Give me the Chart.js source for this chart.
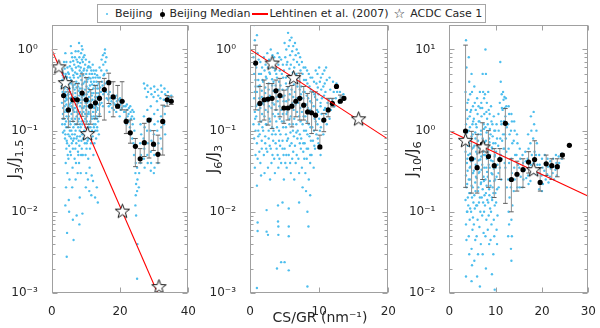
<!DOCTYPE html>
<html>
<head>
<meta charset="utf-8">
<script src="https://cdn.jsdelivr.net/npm/chart.js@4.4.1/dist/chart.umd.min.js"></script>
<style>
  body { margin: 0; background: #fff; font-family: "DejaVu Sans", sans-serif; color: #262626; }
  #fig { position: relative; width: 600px; height: 328px; overflow: hidden; }
  #fig canvas { position: absolute; top: 0; }
  .ytitle { position: absolute; font-size: 15px; white-space: nowrap; transform: translate(-50%, -50%) rotate(-90deg); }
  .ytitle sub { font-size: 75%; }
  #xtitle { position: absolute; left: 320px; top: 317px; transform: translate(-50%, -50%); font-size: 14px; white-space: nowrap; }
  #legend { position: absolute; left: 97px; top: 4px; height: 17px; border: 1px solid #a6a6a6; background: #fff;
            display: flex; align-items: center; font-size: 11px; padding: 0 3px 0 1px; white-space: nowrap; }
  #legend .sw { display: inline-block; position: relative; }
  .dot { width: 2px; height: 2px; border-radius: 1px; background: rgb(77,190,238); margin: 0 7px 0 7px; }
  .med { width: 7px; height: 12px; margin: 0 3px 0 7px; }
  .med i { position: absolute; left: 3px; top: 1px; width: 1px; height: 10px; background: #8c8c8c; }
  .med b { position: absolute; left: 1px; top: 4px; width: 5px; height: 5px; border-radius: 3px; background: #000; }
  .rl { width: 16px; height: 2px; background: #ff0000; margin: 0 1px 0 2px; }
  .st { font-size: 13px; margin: 0 5px 0 5px; line-height: 1; }
</style>
</head>
<body>
<div id="fig">
  <canvas id="c1" width="200" height="328" style="left:0px"></canvas>
  <canvas id="c2" width="200" height="328" style="left:200px"></canvas>
  <canvas id="c3" width="200" height="328" style="left:400px"></canvas>
  <div class="ytitle" style="left:15px; top:159px">J<sub>3</sub>/J<sub>1.5</sub></div>
  <div class="ytitle" style="left:214px; top:159px">J<sub>6</sub>/J<sub>3</sub></div>
  <div class="ytitle" style="left:413px; top:159px">J<sub>10</sub>/J<sub>6</sub></div>
  <div id="xtitle">CS/GR (nm⁻¹)</div>
  <div id="legend">
    <span class="sw dot"></span><span>Beijing</span>
    <span class="sw med"><i></i><b></b></span><span>Beijing Median</span>
    <span class="sw rl"></span><span>Lehtinen et al. (2007)</span>
    <span class="sw st">☆</span><span>ACDC Case 1</span>
  </div>
</div>
<script>
// ---- panel 1 : J3/J1.5 ----
var beijing1 = [
  [3.0,0.55],[3.1,0.42],[2.9,0.35],[3.2,0.30],[3.0,0.22],[3.3,0.16],[3.1,0.12],[2.8,0.62],[3.4,0.50],
  [3.6,0.70],[3.5,0.45],[3.7,0.33],[3.5,0.26],[3.8,0.20],[3.6,0.14],[3.7,0.10],[3.9,0.08],
  [4.0,0.90],[4.1,0.50],[4.2,0.40],[4.0,0.30],[4.3,0.25],[4.1,0.18],[4.2,0.13],[4.0,0.09],[4.3,0.06],[4.1,0.04],[4.2,0.02],[4.0,0.012],
  [4.6,0.60],[4.5,0.45],[4.7,0.32],[4.4,0.24],[4.6,0.17],[4.8,0.11],[4.5,0.07],[4.7,0.05],[4.6,0.03],[4.5,0.0055],[4.4,0.0028],
  [5.0,0.50],[5.1,0.38],[4.9,0.28],[5.2,0.21],[5.0,0.15],[5.3,0.10],[5.1,0.065],[4.9,0.045],[5.2,0.025],[5.0,0.014],[5.1,0.010],
  [5.6,1.10],[5.5,0.70],[5.7,0.42],[5.4,0.30],[5.6,0.22],[5.8,0.16],[5.5,0.12],[5.7,0.08],[5.6,0.05],
  [6.0,0.80],[6.1,0.55],[6.2,0.36],[5.9,0.26],[6.1,0.19],[6.3,0.13],[6.0,0.09],[6.2,0.06],[6.1,0.035],[6.0,0.02],[6.2,0.008],
  [6.6,0.65],[6.5,0.45],[6.7,0.32],[6.4,0.23],[6.6,0.17],[6.8,0.12],[6.5,0.08],[6.7,0.045],[6.4,0.0045],
  [7.0,0.95],[7.1,0.60],[7.2,0.40],[6.9,0.29],[7.1,0.21],[7.3,0.15],[7.0,0.10],[7.2,0.07],[7.1,0.04],[7.0,0.025],[7.3,0.009],
  [7.6,0.70],[7.5,0.50],[7.7,0.35],[7.4,0.25],[7.6,0.18],[7.8,0.13],[7.5,0.085],[7.7,0.055],[7.6,0.03],
  [8.0,1.20],[8.1,0.80],[8.2,0.55],[7.9,0.38],[8.1,0.27],[8.3,0.20],[8.0,0.14],[8.2,0.10],[8.1,0.065],[8.0,0.04],[8.2,0.015],[8.1,0.007],
  [8.6,0.90],[8.5,0.60],[8.7,0.42],[8.4,0.30],[8.6,0.22],[8.8,0.16],[8.5,0.11],[8.7,0.075],[8.6,0.05],[8.5,0.03],
  [9.0,1.00],[9.1,0.70],[9.2,0.48],[8.9,0.33],[9.1,0.24],[9.3,0.17],[9.0,0.12],[9.2,0.08],[9.1,0.05],[9.0,0.0095],
  [9.6,0.85],[9.5,0.58],[9.7,0.40],[9.4,0.28],[9.6,0.20],[9.8,0.14],[9.5,0.10],[9.7,0.07],
  [10.0,0.75],[10.1,0.50],[10.2,0.35],[9.9,0.25],[10.1,0.18],[10.3,0.13],[10.0,0.09],[10.2,0.06],[10.1,0.03],[10.0,0.02],
  [10.6,0.60],[10.5,0.43],[10.7,0.30],[10.4,0.22],[10.6,0.16],[10.8,0.11],[10.5,0.075],[10.7,0.045],[10.6,0.025],
  [11.0,0.70],[11.1,0.50],[11.2,0.36],[10.9,0.26],[11.1,0.19],[11.3,0.13],[11.0,0.09],[11.2,0.06],[11.1,0.035],[11.0,0.018],
  [11.6,0.55],[11.5,0.40],[11.7,0.29],[11.4,0.21],[11.6,0.15],[11.8,0.10],[11.5,0.07],[11.7,0.028],[11.6,0.016],
  [12.0,0.65],[12.1,0.45],[12.2,0.33],[11.9,0.24],[12.1,0.17],[12.3,0.12],[12.0,0.085],[12.2,0.05],[12.1,0.024],
  [12.6,0.50],[12.5,0.36],[12.7,0.26],[12.4,0.19],[12.6,0.14],[12.8,0.10],[12.5,0.07],[12.7,0.015],
  [13.0,0.55],[13.1,0.40],[13.2,0.29],[12.9,0.20],[13.1,0.15],[13.3,0.11],[13.0,0.08],[13.2,0.02],
  [13.6,0.45],[13.5,0.33],[13.7,0.24],[13.4,0.18],[13.6,0.13],[13.8,0.09],[13.5,0.013],
  [14.0,0.60],[14.1,0.45],[14.2,0.34],[13.9,0.27],[14.1,0.21],[14.0,0.16],
  [14.6,0.75],[14.5,0.55],[14.7,0.40],[14.4,0.30],[14.6,0.22],
  [15.0,0.85],[15.1,0.65],[15.2,0.48],[14.9,0.36],[15.1,0.28],[15.0,0.20],
  [15.6,1.00],[15.5,0.90],[15.7,0.70],[15.4,0.50],[15.6,0.38],[15.5,0.30],
  [16.0,0.80],[16.1,0.55],[16.2,0.40],[15.9,0.30],[16.1,0.25],
  [16.6,0.28],[16.5,0.24],[16.7,0.20],[17.0,0.30],[17.1,0.25],[17.2,0.21],[16.9,0.17],[17.6,0.27],[17.5,0.23],[17.7,0.19],
  [18.0,0.26],[18.1,0.22],[18.2,0.18],[18.6,0.25],[18.5,0.21],[19.0,0.27],[19.1,0.23],[19.2,0.20],[18.9,0.17],[19.6,0.24],[19.5,0.20],
  [20.0,0.25],[20.1,0.21],[20.2,0.18],[19.9,0.15],[20.6,0.22],[20.5,0.19],[21.0,0.23],[21.1,0.20],[21.2,0.17],[21.6,0.20],[21.5,0.17],[21.7,0.14],
  [22.0,0.21],[22.1,0.18],[22.2,0.15],[21.9,0.12],[22.6,0.19],[22.5,0.16],[22.7,0.13],[23.0,0.20],[23.1,0.17],[23.2,0.14],[22.9,0.11],[23.1,0.09],
  [23.6,0.18],[23.5,0.15],[23.7,0.12],[23.6,0.08],[24.0,0.17],[24.1,0.14],[24.2,0.10],[23.9,0.07],[24.1,0.05],
  [24.6,0.04],[24.5,0.03],[24.7,0.022],[24.6,0.016],[24.5,0.012],[24.7,0.009],[25.0,0.035],[25.1,0.025],[25.0,0.018],[25.1,0.004],[25.0,0.0015],[25.6,0.03],[25.5,0.02],
  [27.0,0.38],[27.3,0.33],[28.0,0.36],[28.2,0.30],[27.8,0.26],[29.0,0.33],[29.2,0.28],[30.0,0.35],[30.2,0.30],[29.8,0.26],[31.0,0.32],[31.2,0.27],[30.8,0.23],
  [32.0,0.36],[32.2,0.30],[31.8,0.25],[33.0,0.33],[33.2,0.28],[32.8,0.24],[34.0,0.30],[34.2,0.26],[33.8,0.22],[35.0,0.27],[35.2,0.24],
  [26.0,0.12],[26.2,0.09],[25.9,0.07],[26.1,0.05],[26.0,0.04],[27.0,0.15],[27.2,0.11],[26.9,0.08],[27.1,0.06],[27.0,0.045],[27.2,0.035],
  [28.0,0.18],[28.1,0.13],[27.9,0.10],[28.2,0.07],[28.0,0.05],[28.1,0.04],[29.0,0.20],[29.1,0.14],[28.9,0.10],[29.2,0.075],[29.0,0.055],[29.1,0.04],[29.0,0.032],
  [30.0,0.16],[30.1,0.12],[29.9,0.09],[30.2,0.065],[30.0,0.05],[30.1,0.035],[29.9,0.03],[31.0,0.18],[31.1,0.13],[30.9,0.10],[31.2,0.07],[31.0,0.05],[31.1,0.04],
  [32.0,0.15],[32.1,0.11],[31.9,0.08],[32.2,0.06],[33.0,0.20],[33.1,0.16],[32.9,0.12],[33.2,0.09],
  [3.25,0.48],[3.3,0.38],[3.2,0.27],[3.35,0.19],[3.25,0.14],[3.3,0.095],
  [3.8,0.58],[3.85,0.40],[3.75,0.29],[3.9,0.23],[3.8,0.17],[3.85,0.12],
  [4.3,0.70],[4.35,0.46],[4.25,0.35],[4.4,0.27],[4.3,0.21],[4.35,0.15],[4.25,0.11],[4.4,0.075],
  [4.8,0.52],[4.85,0.40],[4.75,0.28],[4.9,0.20],[4.8,0.14],[4.85,0.09],
  [5.3,0.62],[5.35,0.45],[5.25,0.33],[5.4,0.25],[5.3,0.18],[5.35,0.13],[5.25,0.085],[5.4,0.055],
  [5.8,0.90],[5.85,0.58],[5.75,0.38],[5.9,0.28],[5.8,0.20],[5.85,0.14],[5.75,0.10],[5.9,0.07],
  [6.3,0.72],[6.35,0.48],[6.25,0.34],[6.4,0.25],[6.3,0.18],[6.35,0.11],[6.25,0.075],
  [6.8,0.80],[6.85,0.52],[6.75,0.37],[6.9,0.26],[6.8,0.19],[6.85,0.14],[6.75,0.09],[6.9,0.06],
  [7.3,0.75],[7.35,0.50],[7.25,0.34],[7.4,0.24],[7.3,0.17],[7.35,0.12],[7.25,0.08],
  [7.8,0.95],[7.85,0.62],[7.75,0.45],[7.9,0.31],[7.8,0.22],[7.85,0.16],[7.75,0.11],[7.9,0.075],[7.8,0.05],
  [8.3,0.68],[8.35,0.47],[8.25,0.33],[8.4,0.24],[8.3,0.17],[8.35,0.12],[8.25,0.085],
  [8.8,1.10],[8.85,0.75],[8.75,0.52],[8.9,0.37],[8.8,0.26],[8.85,0.19],[8.75,0.13],[8.9,0.09],[8.8,0.06],
  [9.3,0.80],[9.35,0.55],[9.25,0.38],[9.4,0.27],[9.3,0.19],[9.35,0.13],[9.25,0.09],
  [9.8,0.65],[9.85,0.45],[9.75,0.32],[9.9,0.22],[9.8,0.16],[9.85,0.11],[9.75,0.08],[9.9,0.05],
  [10.3,0.55],[10.35,0.40],[10.25,0.28],[10.4,0.20],[10.3,0.15],[10.35,0.10],[10.25,0.07],
  [10.8,0.62],[10.85,0.45],[10.75,0.33],[10.9,0.23],[10.8,0.17],[10.85,0.12],[10.75,0.08],
  [11.3,0.60],[11.35,0.44],[11.25,0.31],[11.4,0.23],[11.3,0.16],[11.35,0.11],[11.25,0.08],
  [11.8,0.50],[11.85,0.37],[11.75,0.27],[11.9,0.20],[11.8,0.14],[11.85,0.095],
  [12.3,0.55],[12.35,0.40],[12.25,0.29],[12.4,0.21],[12.3,0.15],[12.35,0.11],
  [12.8,0.45],[12.85,0.33],[12.75,0.24],[12.9,0.17],[12.8,0.12],
  [13.3,0.48],[13.35,0.36],[13.25,0.26],[13.4,0.19],[13.3,0.14],[13.35,0.10],
  [13.8,0.38],[13.85,0.29],[13.75,0.21],[13.9,0.15]
];
var medX1  = [3.5,4.9,6.2,7.5,8.9,10.1,11.4,12.8,14.0,15.4,16.7,18.0,19.3,20.6,21.8,23.0,24.5,25.9,27.1,28.5,29.8,31.1,32.5,33.8,35.0];
var medY1  = [0.27,0.18,0.24,0.24,0.29,0.24,0.20,0.22,0.25,0.32,0.39,0.26,0.20,0.23,0.13,0.094,0.064,0.045,0.071,0.135,0.068,0.051,0.13,0.24,0.23];
var medLo1 = [0.14,0.11,0.13,0.12,0.15,0.12,0.12,0.14,0.15,0.135,0.216,0.148,0.19,0.18,0.092,0.070,0.036,0.040,0.048,0.046,0.057,0.040,0.050,0.20,0.21];
var medHi1 = [0.36,0.30,0.40,0.38,0.50,0.45,0.32,0.36,0.40,0.44,0.51,0.40,0.36,0.40,0.18,0.135,0.080,0.060,0.123,0.14,0.10,0.088,0.206,0.27,0.26];
var lineX1 = [0, 31];
var lineY1 = [1.0, 0.001];
var starX1 = [2.1, 4.0, 10.5, 20.7, 31.4];
var starY1 = [0.61, 0.39, 0.092, 0.0102, 0.0012];

// ---- panel 2 : J6/J3 ----
var beijing2 = [
  [0.6,2.0],[0.7,1.3],[0.5,0.8],[0.6,0.5],[0.8,0.35],[0.6,0.25],[0.7,0.17],[0.5,0.12],[0.6,0.08],[0.8,0.05],[0.7,0.035],
  [1.0,1.5],[1.1,0.9],[0.9,0.6],[1.2,0.42],[1.0,0.3],[1.1,0.21],[0.9,0.15],[1.2,0.1],[1.0,0.07],[1.1,0.045],[1.0,0.021],[1.1,0.0074],[1.1,0.0058],[1.0,0.00115],
  [1.5,0.7],[1.6,0.5],[1.4,0.36],[1.7,0.26],[1.5,0.19],[1.6,0.13],[1.4,0.09],[1.7,0.06],[1.5,0.04],[1.6,0.028],
  [2.0,0.8],[2.1,0.55],[1.9,0.4],[2.2,0.29],[2.0,0.21],[2.1,0.15],[1.9,0.1],[2.2,0.07],[2.0,0.05],[2.1,0.03],
  [2.5,0.9],[2.6,0.6],[2.4,0.44],[2.7,0.32],[2.5,0.23],[2.6,0.17],[2.4,0.12],[2.7,0.08],[2.5,0.055],[2.6,0.035],[2.4,0.0105],[2.4,0.0057],[2.6,0.0052],
  [3.0,1.0],[3.1,0.7],[2.9,0.5],[3.2,0.36],[3.0,0.26],[3.1,0.19],[2.9,0.13],[3.2,0.09],[3.0,0.06],[3.1,0.04],[2.9,0.025],
  [3.5,0.8],[3.6,0.55],[3.4,0.4],[3.7,0.29],[3.5,0.21],[3.6,0.15],[3.4,0.1],[3.7,0.07],[3.5,0.045],[3.6,0.03],
  [4.0,0.9],[4.1,0.65],[3.9,0.45],[4.2,0.32],[4.0,0.23],[4.1,0.16],[3.9,0.11],[4.2,0.075],[4.0,0.05],[4.1,0.035],[4.05,0.012],[4.05,0.0076],[4.1,0.0066],[4.1,0.0052],[3.9,0.002],
  [4.5,0.75],[4.6,0.5],[4.4,0.36],[4.7,0.26],[4.5,0.18],[4.6,0.13],[4.4,0.09],[4.7,0.06],[4.5,0.04],[4.7,0.013],[4.5,0.0024],
  [5.0,1.2],[5.1,0.8],[4.9,0.55],[5.2,0.38],[5.0,0.27],[5.1,0.19],[4.9,0.13],[5.2,0.09],[5.0,0.06],[5.1,0.04],[4.9,0.025],[5.0,0.0024],
  [5.5,1.6],[5.6,1.1],[5.4,0.7],[5.7,0.48],[5.5,0.34],[5.6,0.24],[5.4,0.17],[5.7,0.12],[5.5,0.08],[5.6,0.05],[5.6,0.011],[5.6,0.0066],[5.6,0.005],[5.6,0.0019],
  [6.0,1.4],[6.1,0.95],[5.9,0.65],[6.2,0.45],[6.0,0.32],[6.1,0.22],[5.9,0.15],[6.2,0.1],[6.0,0.07],[6.1,0.045],[5.9,0.03],
  [6.5,1.2],[6.6,0.85],[6.4,0.6],[6.7,0.42],[6.5,0.3],[6.6,0.21],[6.4,0.14],[6.7,0.095],[6.5,0.065],[6.6,0.04],[6.4,0.025],
  [7.0,0.9],[7.1,0.65],[6.9,0.45],[7.2,0.32],[7.0,0.22],[7.1,0.15],[6.9,0.1],[7.2,0.07],[7.0,0.045],[7.1,0.03],[7.1,0.013],
  [7.5,0.7],[7.6,0.5],[7.4,0.35],[7.7,0.25],[7.5,0.17],[7.6,0.12],[7.4,0.08],[7.7,0.055],[7.5,0.035],[7.6,0.02],
  [8.0,0.6],[8.1,0.42],[7.9,0.3],[8.2,0.21],[8.0,0.15],[8.1,0.1],[7.9,0.07],[8.2,0.045],[8.0,0.03],[8.1,0.018],
  [8.5,0.5],[8.6,0.35],[8.4,0.25],[8.7,0.18],[8.5,0.12],[8.6,0.085],[8.4,0.06],[8.7,0.04],[8.5,0.025],[8.7,0.016],[8.3,0.01],[8.45,0.0066],[8.3,0.0012],
  [9.0,0.45],[9.1,0.3],[8.9,0.22],[9.2,0.16],[9.0,0.11],[9.1,0.075],[8.9,0.05],[9.2,0.035],
  [9.5,0.55],[9.6,0.38],[9.4,0.26],[9.7,0.18],[9.5,0.13],[9.6,0.09],[9.4,0.06],
  [10.0,0.6],[10.1,0.4],[9.9,0.28],[10.2,0.2],[10.0,0.14],[10.1,0.1],[9.9,0.07],[10.2,0.05],
  [10.5,0.5],[10.6,0.35],[10.4,0.25],[10.7,0.18],[10.5,0.13],[10.6,0.09],
  [11.0,0.6],[11.1,0.42],[10.9,0.3],[11.2,0.22],[11.0,0.16],[11.1,0.12],
  [11.5,0.45],[11.6,0.32],[11.4,0.24],[11.7,0.18],[11.5,0.14],
  [12.0,0.4],[12.1,0.3],[11.9,0.24],[12.2,0.2],[12.5,0.38],[12.6,0.3],[12.4,0.25],
  [13.0,0.3],[13.1,0.26],[12.9,0.22],[13.5,0.28],[13.6,0.24],
  [0.75,0.65],[0.8,0.42],[0.7,0.3],[0.85,0.2],[0.75,0.14],[0.8,0.1],
  [1.25,0.75],[1.3,0.5],[1.2,0.35],[1.35,0.25],[1.25,0.18],[1.3,0.12],[1.2,0.085],[1.35,0.055],
  [1.75,0.6],[1.8,0.42],[1.7,0.31],[1.85,0.22],[1.75,0.16],[1.8,0.11],[1.7,0.075],
  [2.25,0.65],[2.3,0.46],[2.2,0.34],[2.35,0.25],[2.25,0.18],[2.3,0.12],[2.2,0.085],[2.35,0.06],
  [2.75,0.75],[2.8,0.52],[2.7,0.38],[2.85,0.27],[2.75,0.2],[2.8,0.14],[2.7,0.1],[2.85,0.065],
  [3.25,0.85],[3.3,0.6],[3.2,0.43],[3.35,0.31],[3.25,0.22],[3.3,0.16],[3.2,0.11],[3.35,0.075],[3.25,0.05],
  [3.75,0.7],[3.8,0.5],[3.7,0.36],[3.85,0.26],[3.75,0.18],[3.8,0.13],[3.7,0.09],[3.85,0.06],
  [4.25,0.8],[4.3,0.55],[4.2,0.4],[4.35,0.28],[4.25,0.2],[4.3,0.14],[4.2,0.1],[4.35,0.065],[4.25,0.045],
  [4.75,0.65],[4.8,0.45],[4.7,0.32],[4.85,0.23],[4.75,0.16],[4.8,0.11],[4.7,0.075],[4.85,0.05],
  [5.25,1.0],[5.3,0.65],[5.2,0.45],[5.35,0.32],[5.25,0.23],[5.3,0.16],[5.2,0.11],[5.35,0.075],[5.25,0.05],[5.3,0.035],
  [5.75,1.3],[5.8,0.85],[5.7,0.58],[5.85,0.4],[5.75,0.28],[5.8,0.2],[5.7,0.14],[5.85,0.095],[5.75,0.065],[5.8,0.04],
  [6.25,1.1],[6.3,0.75],[6.2,0.52],[6.35,0.37],[6.25,0.26],[6.3,0.18],[6.2,0.12],[6.35,0.085],[6.25,0.055],
  [6.75,1.0],[6.8,0.7],[6.7,0.5],[6.85,0.35],[6.75,0.25],[6.8,0.17],[6.7,0.12],[6.85,0.08],[6.75,0.05],
  [7.25,0.8],[7.3,0.55],[7.2,0.4],[7.35,0.28],[7.25,0.19],[7.3,0.13],[7.2,0.09],[7.35,0.06],
  [7.75,0.6],[7.8,0.42],[7.7,0.3],[7.85,0.21],[7.75,0.15],[7.8,0.1],[7.7,0.07],[7.85,0.045],
  [8.25,0.55],[8.3,0.38],[8.2,0.27],[8.35,0.19],[8.25,0.13],[8.3,0.09],[8.2,0.06],
  [8.75,0.45],[8.8,0.32],[8.7,0.23],[8.85,0.16],[8.75,0.11],[8.8,0.075],[8.7,0.05],
  [9.25,0.4],[9.3,0.28],[9.2,0.2],[9.35,0.14],[9.25,0.1],[9.3,0.065],
  [9.75,0.5],[9.8,0.34],[9.7,0.24],[9.85,0.17],[9.75,0.12],[9.8,0.08],
  [10.25,0.45],[10.3,0.32],[10.2,0.22],[10.35,0.16],[10.25,0.11],
  [10.75,0.55],[10.8,0.38],[10.7,0.27],[10.85,0.19],[10.75,0.14]
];
var medX2  = [0.81,1.43,2.05,2.62,3.19,3.76,4.33,4.9,5.48,6.05,6.62,7.19,7.76,8.33,8.9,9.48,10.1,10.67,11.3,11.9,12.5,13.05,13.57];
var medY2  = [0.68,0.216,0.24,0.245,0.25,0.31,0.27,0.19,0.19,0.2,0.23,0.25,0.206,0.17,0.166,0.155,0.063,0.135,0.18,0.216,0.35,0.23,0.25];
var medLo2 = [0.18,0.128,0.135,0.117,0.106,0.18,0.148,0.123,0.135,0.111,0.148,0.135,0.135,0.123,0.092,0.101,0.06,0.097,0.148,0.196,0.35,0.226,0.24];
var medHi2 = [1.13,0.35,0.42,0.38,0.38,0.42,0.44,0.315,0.35,0.36,0.44,0.51,0.35,0.287,0.30,0.30,0.088,0.163,0.25,0.25,0.35,0.274,0.26];
var lineX2 = [0, 20];
var lineY2 = [1.0, 0.078];
var starX2 = [3.2, 6.3, 15.7];
var starY2 = [0.68, 0.45, 0.14];

// ---- panel 3 : J10/J6 ----
var beijing3 = [
  [3.6,13],[3.7,6],[3.5,3],[3.8,1.8],[3.6,1.2],[3.7,0.8],[3.5,0.55],[3.8,0.4],[3.6,0.28],[3.7,0.2],[3.5,0.14],[3.8,0.1],[3.6,0.07],[3.7,0.045],[3.6,0.016],
  [4.2,8],[4.3,4],[4.1,2.4],[4.4,1.5],[4.2,1.0],[4.3,0.7],[4.1,0.5],[4.4,0.35],[4.2,0.25],[4.3,0.17],[4.1,0.12],[4.4,0.08],[4.2,0.05],[4.3,0.03],
  [4.8,5],[4.9,3],[4.7,1.8],[5.0,1.2],[4.8,0.85],[4.9,0.6],[4.7,0.42],[5.0,0.3],[4.8,0.21],[4.9,0.15],[4.7,0.1],[5.0,0.06],[4.8,0.035],[4.9,0.022],[4.8,0.014],
  [5.4,3.5],[5.5,2.2],[5.3,1.4],[5.6,0.95],[5.4,0.65],[5.5,0.45],[5.3,0.32],[5.6,0.23],[5.4,0.16],[5.5,0.11],[5.3,0.07],[5.6,0.045],[5.4,0.025],
  [6.0,2.5],[6.1,1.6],[5.9,1.1],[6.2,0.75],[6.0,0.52],[6.1,0.37],[5.9,0.26],[6.2,0.18],[6.0,0.12],[6.1,0.08],[5.9,0.05],[6.2,0.03],[6.0,0.016],
  [6.6,3],[6.7,1.9],[6.5,1.3],[6.8,0.9],[6.6,0.62],[6.7,0.44],[6.5,0.31],[6.8,0.22],[6.6,0.15],[6.7,0.1],[6.5,0.065],[6.8,0.04],[6.6,0.012],
  [7.2,5],[7.3,3],[7.1,1.9],[7.4,1.2],[7.2,0.8],[7.3,0.55],[7.1,0.38],[7.4,0.27],[7.2,0.19],[7.3,0.13],[7.1,0.09],[7.4,0.055],[7.2,0.03],
  [7.8,10],[7.9,5],[7.7,2.8],[8.0,1.7],[7.8,1.1],[7.9,0.75],[7.7,0.5],[8.0,0.35],[7.8,0.25],[7.9,0.17],[7.7,0.12],[8.0,0.08],[7.8,0.05],[7.9,0.02],
  [8.4,3],[8.5,1.8],[8.3,1.2],[8.6,0.8],[8.4,0.55],[8.5,0.38],[8.3,0.27],[8.6,0.19],[8.4,0.13],[8.5,0.09],[8.3,0.06],[8.6,0.04],
  [9.0,2],[9.1,1.3],[8.9,0.9],[9.2,0.62],[9.0,0.43],[9.1,0.3],[8.9,0.21],[9.2,0.15],[9.0,0.1],[9.1,0.07],[8.9,0.045],[9.2,0.017],
  [9.6,1.5],[9.7,1.0],[9.5,0.7],[9.8,0.48],[9.6,0.34],[9.7,0.24],[9.5,0.17],[9.8,0.12],[9.6,0.08],[9.7,0.05],[9.5,0.03],[9.8,0.011],[9.9,0.01],
  [10.2,1.2],[10.3,0.8],[10.1,0.55],[10.4,0.38],[10.2,0.27],[10.3,0.19],[10.1,0.13],[10.4,0.09],[10.2,0.06],[10.3,0.04],
  [11.0,7],[11.1,4],[10.9,2.2],[11.2,1.3],[11.0,0.8],[11.1,0.5],[10.9,0.35],[11.2,0.25],
  [11.6,3],[11.7,2.4],[11.5,1.8],[11.8,1.3],[11.6,0.9],[11.7,0.6],
  [12.2,2.5],[12.3,2],[12.1,1.5],[12.4,1.1],[12.2,0.8],[12.3,0.55],[12.1,0.35],[12.4,0.2],
  [12.8,2],[12.9,1.6],[12.7,1.2],[13.0,0.9],[12.8,0.6],[12.9,0.4],[12.7,0.25],[13.0,0.15],[12.8,0.1],[12.9,0.07],[12.7,0.05],
  [13.4,1.6],[13.5,1.3],[13.3,1.0],[13.6,0.7],[13.4,0.45],[13.5,0.3],[13.3,0.2],[13.6,0.12],[13.4,0.08],[13.5,0.05],[13.3,0.035],[13.4,0.025],
  [14.0,1.3],[14.1,1.0],[13.9,0.75],[14.2,0.5],[14.0,0.35],[14.1,0.25],[13.9,0.18],
  [14.6,0.9],[14.7,0.7],[14.5,0.5],[14.8,0.38],[14.6,0.28],[14.7,0.2],
  [15.2,0.6],[15.3,0.45],[15.1,0.35],[15.4,0.27],[15.2,0.2],
  [15.8,0.5],[15.9,0.4],[15.7,0.32],[16.0,0.25],[15.8,0.2],
  [16.4,0.55],[16.5,0.42],[16.3,0.33],[16.6,0.26],
  [17.0,0.9],[17.1,0.6],[16.9,0.45],[17.2,0.35],[17.0,0.28],[17.1,0.22],
  [17.6,1.5],[17.7,1.0],[17.5,0.7],[17.8,0.5],[17.6,0.38],[17.7,0.3],[17.5,0.24],
  [18.2,1.7],[18.3,1.2],[18.1,0.8],[18.4,0.55],[18.2,0.4],[18.3,0.3],
  [18.8,1.0],[18.9,0.7],[18.7,0.5],[19.0,0.38],[18.8,0.29],
  [19.4,0.5],[19.5,0.38],[19.3,0.3],[19.6,0.24],[19.4,0.19],
  [20.0,0.45],[20.1,0.35],[19.9,0.28],[20.2,0.22],[20.0,0.18],
  [20.6,0.5],[20.7,0.4],[20.5,0.32],[20.8,0.25],
  [21.2,0.45],[21.3,0.36],[21.1,0.29],[21.4,0.23],
  [21.8,0.42],[21.9,0.34],[21.7,0.27],
  [22.4,0.45],[22.5,0.36],[22.3,0.3],[22.6,0.25],
  [23.0,0.5],[23.1,0.4],[22.9,0.33],[23.2,0.28],
  [23.6,0.48],[23.7,0.4],[24.2,0.52],[24.3,0.45],
  [3.9,2.2],[3.95,1.4],[3.85,0.95],[4.0,0.65],[3.9,0.45],[3.95,0.32],[3.85,0.22],[4.0,0.15],[3.9,0.1],
  [4.5,2.8],[4.55,1.7],[4.45,1.1],[4.6,0.75],[4.5,0.52],[4.55,0.36],[4.45,0.25],[4.6,0.17],[4.5,0.11],
  [5.1,2.0],[5.15,1.3],[5.05,0.9],[5.2,0.62],[5.1,0.43],[5.15,0.3],[5.05,0.2],[5.2,0.13],[5.1,0.085],
  [5.7,1.8],[5.75,1.2],[5.65,0.8],[5.8,0.55],[5.7,0.38],[5.75,0.27],[5.65,0.18],[5.8,0.12],
  [6.3,2.0],[6.35,1.3],[6.25,0.9],[6.4,0.62],[6.3,0.43],[6.35,0.3],[6.25,0.2],[6.4,0.13],
  [6.9,2.2],[6.95,1.5],[6.85,1.0],[7.0,0.7],[6.9,0.48],[6.95,0.33],[6.85,0.23],[7.0,0.15],
  [7.5,2.5],[7.55,1.6],[7.45,1.05],[7.6,0.72],[7.5,0.5],[7.55,0.35],[7.45,0.24],[7.6,0.16],[7.5,0.1],
  [8.1,2.2],[8.15,1.4],[8.05,0.95],[8.2,0.65],[8.1,0.45],[8.15,0.31],[8.05,0.21],[8.2,0.14],
  [8.7,1.6],[8.75,1.05],[8.65,0.72],[8.8,0.5],[8.7,0.35],[8.75,0.24],[8.65,0.16],[8.8,0.11],
  [9.3,1.2],[9.35,0.85],[9.25,0.6],[9.4,0.42],[9.3,0.29],[9.35,0.2],[9.25,0.14],
  [9.9,1.0],[9.95,0.7],[9.85,0.5],[10.0,0.35],[9.9,0.25],[9.95,0.17],
  [10.6,1.6],[10.65,1.0],[10.55,0.65],[10.7,0.45],[10.6,0.3],[10.65,0.2],
  [11.3,2.8],[11.35,1.9],[11.25,1.2],[11.4,0.75],[11.3,0.45],
  [11.9,2.6],[11.95,1.9],[11.85,1.3],[12.0,0.9],[11.9,0.6],[11.95,0.4]
];
var medX3  = [3.5,4.8,6.0,7.15,8.44,9.7,10.9,12.1,13.4,14.6,15.9,17.1,18.4,19.6,20.9,22.1,23.3,24.4,25.9];
var medY3  = [0.99,0.45,0.35,0.68,0.48,0.37,0.44,1.23,0.25,0.29,0.33,0.41,0.44,0.23,0.39,0.37,0.36,0.5,0.66];
var medLo3 = [0.2,0.17,0.17,0.25,0.2,0.15,0.25,0.127,0.1,0.18,0.2,0.3,0.3,0.18,0.28,0.25,0.27,0.45,0.66];
var medHi3 = [11.3,0.98,0.9,1.25,1.0,0.6,0.6,1.87,0.45,0.42,0.45,0.55,0.75,0.35,0.5,0.45,0.45,0.52,0.66];
var lineX3 = [0, 30];
var lineY3 = [0.99, 0.156];
var starX3 = [3.5, 7.3, 18.2];
var starY3 = [0.76, 0.63, 0.33];

var sup = {'0':'⁰','1':'¹','2':'²','3':'³','-':'⁻'};
function supText(n) {
    return String(n).split('').map(function(c) { return sup[c]; }).join('');
}

function starImage() { // hollow 5-point star
    var c = document.createElement('canvas');
    c.width = 17; c.height = 17;
    var g = c.getContext('2d');
    g.beginPath();
    for (var i = 0; i < 10; i++) {
        var r = i % 2 === 0 ? 7.5 : 3.1;
        var a = -Math.PI / 2 + i * Math.PI / 5;
        var px = 8.5 + r * Math.cos(a), py = 9 + r * Math.sin(a);
        if (i === 0) g.moveTo(px, py); else g.lineTo(px, py);
    }
    g.closePath();
    g.fillStyle = '#fff';
    g.fill();
    g.strokeStyle = '#000';
    g.lineWidth = 0.9;
    g.stroke();
    return c;
}
var star = starImage();

var framePlugin = {
    id: 'frame',
    afterDatasetsDraw: function(chart) {
        var ctx = chart.ctx, a = chart.chartArea;
        var xs = chart.scales.x, ys = chart.scales.y;
        ctx.save();
        ctx.strokeStyle = '#a0a0a0';
        ctx.lineWidth = 1;
        var l = Math.round(a.left) + 0.5, r = Math.round(a.right) - 0.5;
        var t = Math.round(a.top) + 0.5, b = Math.round(a.bottom) - 0.5;
        ctx.strokeRect(l, t, r - l, b - t);
        ctx.beginPath();
        var e0 = Math.floor(Math.log10(ys.min)), e1 = Math.ceil(Math.log10(ys.max));
        for (var e = e0; e <= e1; e++) {
            for (var m = 1; m <= 9; m++) {
                var v = m * Math.pow(10, e);
                if (v < ys.min * 0.999 || v > ys.max * 1.001) continue;
                var py = Math.round(ys.getPixelForValue(v)) + 0.5;
                var len = m === 1 ? 5 : 3;
                ctx.moveTo(l, py); ctx.lineTo(l + len, py);
                ctx.moveTo(r, py); ctx.lineTo(r - len, py);
            }
        }
        xs.ticks.forEach(function(tk) {
            var px = Math.round(xs.getPixelForValue(tk.value)) + 0.5;
            ctx.moveTo(px, b); ctx.lineTo(px, b - 5);
            ctx.moveTo(px, t); ctx.lineTo(px, t + 5);
        });
        ctx.stroke();
        ctx.restore();
    }
};

function pts(xs, ys) {
    return xs.map(function(x, i) { return {x: x, y: ys[i]}; });
}

function drawPanel(id, cloud, medX, medY, medLo, medHi, lineX, lineY, starX, starY, xmax, xstep, ymin, ymax, yw, padRight) {
    var bars = [], caps = [];
    medX.forEach(function(x, i) {
        bars.push({x: x, y: medLo[i]}, {x: x, y: medHi[i]}, {x: x, y: null});
        caps.push({x: x, y: medLo[i]}, {x: x, y: medHi[i]});
    });
    var decades = [];
    for (var e = Math.round(Math.log10(ymin)); Math.pow(10, e) <= ymax; e++) decades.push(e);

    new Chart(document.getElementById(id).getContext('2d'), {
        type: 'scatter',
        data: {
            datasets: [
                { data: pts(starX, starY), pointStyle: star, order: 0 },
                { type: 'line', data: pts(lineX, lineY), borderColor: '#ff0000', borderWidth: 1.1, pointRadius: 0, order: 1 },
                { data: pts(medX, medY), pointRadius: 2.6, backgroundColor: '#000', borderWidth: 0, order: 2 },
                { data: caps, pointStyle: 'line', pointRadius: 2.3, borderColor: '#606060', borderWidth: 1, order: 3 },
                { type: 'line', data: bars, borderColor: '#999999', borderWidth: 1.1, pointRadius: 0, spanGaps: false, order: 4 },
                { data: cloud.map(function(p) { return {x: p[0], y: p[1]}; }), pointRadius: 1.2, borderWidth: 0,
                  backgroundColor: 'rgb(77,190,238)', order: 5 }
            ]
        },
        options: {
            responsive: false,
            animation: false,
            events: [],
            layout: { autoPadding: false, padding: { top: 25, right: padRight, left: 0, bottom: 0 } },
            plugins: { legend: { display: false }, tooltip: { enabled: false } },
            scales: {
                x: {
                    type: 'linear', min: 0, max: xmax,
                    grid: { display: false }, border: { display: false },
                    ticks: { stepSize: xstep, color: '#262626', font: { family: 'DejaVu Sans', size: 12 }, padding: 4, maxRotation: 0 },
                    afterFit: function(s) { s.height = 35; }
                },
                y: {
                    type: 'logarithmic', min: ymin, max: ymax,
                    grid: { display: false }, border: { display: false },
                    afterBuildTicks: function(s) {
                        s.ticks = decades.map(function(e) { return {value: Math.pow(10, e)}; });
                    },
                    ticks: {
                        autoSkip: false, color: '#262626', font: { family: 'DejaVu Sans', size: 12 }, padding: 6,
                        callback: function(v) { return '10' + supText(Math.round(Math.log10(v))); }
                    },
                    afterFit: function(s) { s.width = yw; }
                }
            }
        },
        plugins: [framePlugin]
    });
}

drawPanel('c1', beijing1, medX1, medY1, medLo1, medHi1, lineX1, lineY1, starX1, starY1, 40, 20, 0.001, 2, 51.7, 8.3);
drawPanel('c2', beijing2, medX2, medY2, medLo2, medHi2, lineX2, lineY2, starX2, starY2, 20, 10, 0.001, 2, 50, 10);
drawPanel('c3', beijing3, medX3, medY3, medLo3, medHi3, lineX3, lineY3, starX3, starY3, 30, 10, 0.01, 20, 49.3, 10.7);
</script>
</body>
</html>
